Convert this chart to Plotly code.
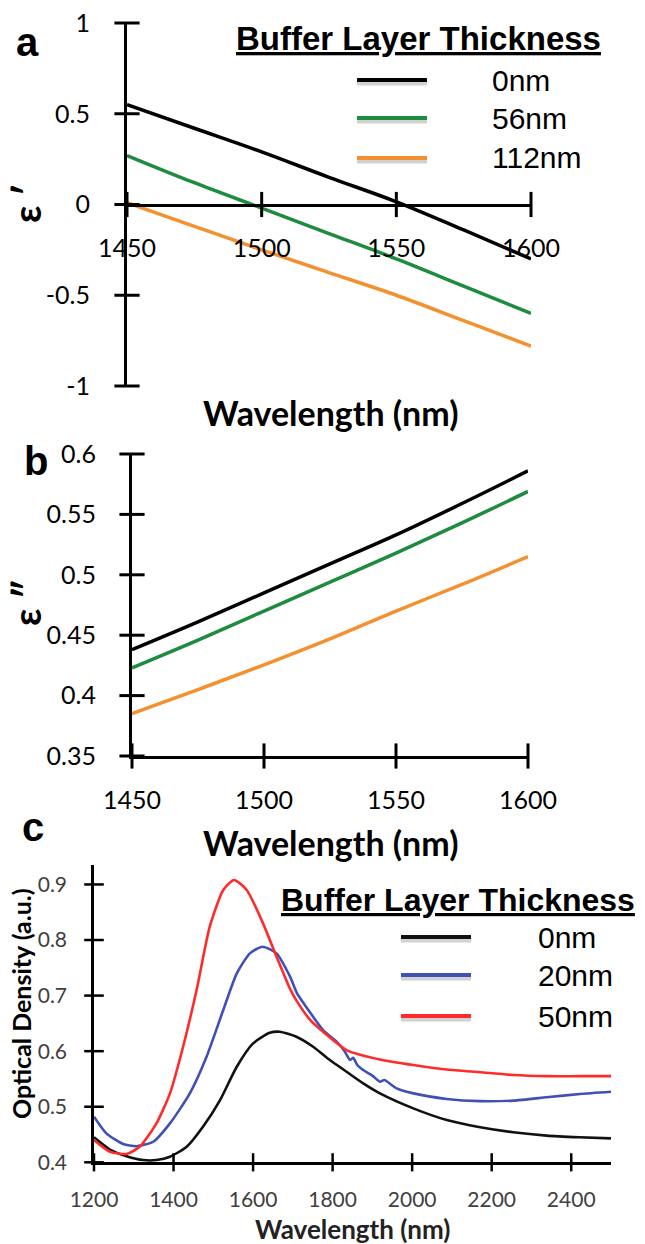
import plotly.graph_objects as go

W, H = 645, 1244

def PX(p):
    return p / W

def PY(p):
    return 1 - p / H

# ---------------- data ----------------
# panel a: real permittivity
lam_ab = [1450, 1475, 1500, 1525, 1550, 1575, 1600]
eps1_0nm = [0.55, 0.42, 0.29, 0.15, 0.015, -0.14, -0.30]
eps1_56nm = [0.27, 0.12, -0.02, -0.16, -0.30, -0.45, -0.60]
eps1_112nm = [0.01, -0.12, -0.25, -0.375, -0.50, -0.64, -0.78]

# panel b: imaginary permittivity
eps2_0nm = [0.438, 0.461, 0.485, 0.509, 0.533, 0.559, 0.586]
eps2_56nm = [0.423, 0.446, 0.470, 0.494, 0.518, 0.543, 0.569]
eps2_112nm = [0.385, 0.405, 0.4255, 0.447, 0.470, 0.492, 0.515]

names_ab = ["0nm", "56nm", "112nm"]
colors_ab = ["#000000", "#1E8B3F", "#F39130"]

xt_ab = [1450, 1500, 1550, 1600]
yt_a = [-1, -0.5, 0, 0.5, 1]
yt_a_text = ["-1", "-0.5", "0", "0.5", "1"]
yt_b = [0.35, 0.4, 0.45, 0.5, 0.55, 0.6]
yt_b_text = ["0.35", "0.4", "0.45", "0.5", "0.55", "0.6"]

# panel c: optical density
lam_c_0 = [1200, 1240, 1282, 1324, 1357, 1391, 1433, 1474, 1517, 1559, 1600, 1642, 1667,
           1709, 1751, 1793, 1835, 1877, 1919, 2003, 2087, 2171, 2254, 2338, 2420, 2500]
od_0nm = [0.445, 0.423, 0.411, 0.404, 0.404, 0.410, 0.428, 0.464, 0.512, 0.572, 0.614, 0.633, 0.635,
          0.626, 0.608, 0.584, 0.563, 0.542, 0.524, 0.497, 0.476, 0.463, 0.454, 0.448, 0.445, 0.443]

lam_c_20 = [1200, 1231, 1273, 1307, 1349, 1391, 1441, 1483, 1525, 1559, 1592, 1624, 1659, 1693,
            1710, 1745, 1776, 1810, 1830, 1844, 1852, 1862, 1877, 1900, 1919, 1930, 1961, 2003,
            2087, 2171, 2254, 2338, 2422, 2500]
od_20nm = [0.482, 0.452, 0.433, 0.429, 0.437, 0.470, 0.524, 0.590, 0.674, 0.740, 0.776, 0.788, 0.776, 0.734,
           0.705, 0.668, 0.638, 0.617, 0.600, 0.584, 0.588, 0.575, 0.566, 0.556, 0.545, 0.548, 0.533, 0.524,
           0.514, 0.510, 0.511, 0.517, 0.523, 0.527]

lam_c_50 = [1200, 1240, 1282, 1315, 1357, 1391, 1424, 1458, 1491, 1525, 1552, 1584, 1625, 1659,
            1693, 1710, 1745, 1776, 1835, 1919, 2003, 2087, 2171, 2254, 2338, 2420, 2500]
od_50nm = [0.440, 0.419, 0.415, 0.428, 0.470, 0.524, 0.608, 0.710, 0.824, 0.890, 0.908, 0.890, 0.830, 0.770,
           0.712, 0.690, 0.655, 0.635, 0.602, 0.585, 0.575, 0.567, 0.562, 0.557, 0.555, 0.555, 0.555]

names_c = ["0nm", "20nm", "50nm"]
colors_c = ["#111111", "#3F51B5", "#FF2B2B"]
xt_c = [1200, 1400, 1600, 1800, 2000, 2200, 2400]
yt_c = [0.4, 0.5, 0.6, 0.7, 0.8, 0.9]
yt_c_text = ["0.4", "0.5", "0.6", "0.7", "0.8", "0.9"]

legend_title = "Buffer Layer Thickness"
xlabel = "Wavelength (nm)"

# ---------------- figure ----------------
fig = go.Figure()

TICKFONT = "Lato, Carlito, Open Sans, sans-serif"
ARIAL = "Liberation Sans, Arial, sans-serif"

for ys, col in zip([eps1_0nm, eps1_56nm, eps1_112nm], colors_ab):
    fig.add_trace(go.Scatter(x=lam_ab, y=ys, mode="lines", line=dict(color=col, width=3.5, shape="spline"),
                             xaxis="x", yaxis="y", showlegend=False, hoverinfo="skip"))
for ys, col in zip([eps2_0nm, eps2_56nm, eps2_112nm], colors_ab):
    fig.add_trace(go.Scatter(x=lam_ab, y=ys, mode="lines", line=dict(color=col, width=3.5, shape="spline"),
                             xaxis="x2", yaxis="y2", showlegend=False, hoverinfo="skip"))
for xs, ys, col in zip([lam_c_0, lam_c_20, lam_c_50], [od_0nm, od_20nm, od_50nm], colors_c):
    fig.add_trace(go.Scatter(x=xs, y=ys, mode="lines", line=dict(color=col, width=2.6, shape="spline", smoothing=0.6),
                             xaxis="x3", yaxis="y3", showlegend=False, hoverinfo="skip"))

# crossing tick marks
def tickmarks(xs, ys, symbol, size, width, xa, ya):
    fig.add_trace(go.Scatter(x=xs, y=ys, mode="markers", cliponaxis=False,
                             marker=dict(symbol=symbol, size=size, line=dict(color="black", width=width)),
                             xaxis=xa, yaxis=ya, showlegend=False, hoverinfo="skip"))

tickmarks(xt_ab, [0] * len(xt_ab), "line-ns", 18, 3, "x", "y")
tickmarks([xt_ab[0]] * len(yt_a), yt_a, "line-ew", 18, 3, "x", "y")
tickmarks(xt_ab, [yt_b[0]] * len(xt_ab), "line-ns", 18, 3, "x2", "y2")
tickmarks([xt_ab[0]] * len(yt_b), yt_b, "line-ew", 18, 3, "x2", "y2")
tickmarks(xt_c, [yt_c[0]] * len(xt_c), "line-ns", 13, 2.5, "x3", "y3")
tickmarks([xt_c[0]] * len(yt_c), yt_c, "line-ew", 14, 2.5, "x3", "y3")

common = dict(showgrid=False, zeroline=False, showline=True, linecolor="black", automargin=False,
              ticks="outside", tickcolor="rgba(0,0,0,0)")

fig.update_layout(
    width=W, height=H, margin=dict(l=0, r=0, t=0, b=0, autoexpand=False),
    paper_bgcolor="white", plot_bgcolor="rgba(0,0,0,0)",
    xaxis=dict(**common, domain=[PX(127), PX(531)], range=[1450, 1600], anchor="free", position=PY(204.5),
               linewidth=3, ticklen=20, tickvals=xt_ab, tickfont=dict(family=TICKFONT, size=25, color="black")),
    yaxis=dict(**common, domain=[PY(386), PY(23)], range=[-1, 1], anchor="x", linewidth=3, ticklen=29,
               tickvals=yt_a, ticktext=yt_a_text, tickfont=dict(family=TICKFONT, size=25, color="black")),
    xaxis2=dict(**common, domain=[PX(132), PX(528)], range=[1450, 1600], anchor="y2",
                linewidth=3, ticklen=20, tickvals=xt_ab, tickfont=dict(family=TICKFONT, size=25, color="black")),
    yaxis2=dict(**common, domain=[PY(756), PY(454)], range=[0.35, 0.6], anchor="x2", linewidth=3, ticklen=28,
                tickvals=yt_b, ticktext=yt_b_text, tickfont=dict(family=TICKFONT, size=25, color="black")),
    xaxis3=dict(**common, domain=[PX(94), PX(611)], range=[1200, 2500], anchor="y3",
                linewidth=2.5, ticklen=17, tickvals=xt_c, tickfont=dict(family=TICKFONT, size=21, color="#404040")),
    yaxis3=dict(**common, domain=[PY(1162.3), PY(865)], range=[0.4, 0.935], anchor="x3", linewidth=2.5, ticklen=20,
                tickvals=yt_c, ticktext=yt_c_text, tickfont=dict(family=TICKFONT, size=21, color="#404040")),
)

ann = []
def text(t, x, y, size, family, color="black", xanchor="center", angle=0):
    ann.append(dict(text=t, x=PX(x), y=PY(y), xref="paper", yref="paper", showarrow=False,
                    xanchor=xanchor, yanchor="middle", textangle=angle,
                    font=dict(size=size, family=family, color=color)))

# panel letters
text("<b>a</b>", 27, 42, 40, ARIAL)
text("<b>b</b>", 36, 461, 40, ARIAL)
text("<b>c</b>", 33, 827, 40, ARIAL)

# axis titles
text("<b>ε ′</b>", 26, 204, 38, "Lato, DejaVu Sans", angle=-90)
text("<b>ε ″</b>", 26, 603, 38, "Lato, DejaVu Sans", angle=-90)
text("<b>Optical Density (a.u.)</b>", 21, 1004, 25, TICKFONT, angle=-90)
text("<b>" + xlabel + "</b>", 330, 413, 34, TICKFONT)
text("<b>" + xlabel + "</b>", 330, 843, 34, TICKFONT)
text("<b>" + xlabel + "</b>", 352, 1229, 26, TICKFONT, color="#222222")

# manual legends
shapes = []
def legend(title_x, title_y, title_size, line_x0, line_x1, ys, text_x, names, colors, size):
    text("<u><b>" + legend_title + "</b></u>", title_x, title_y, title_size, ARIAL, xanchor="left")
    for yy, nm, col in zip(ys, names, colors):
        shapes.append(dict(type="line", xref="paper", yref="paper", x0=PX(line_x0), x1=PX(line_x1),
                           y0=PY(yy + 3), y1=PY(yy + 3), line=dict(color="rgba(0,0,0,0.18)", width=5)))
        shapes.append(dict(type="line", xref="paper", yref="paper", x0=PX(line_x0), x1=PX(line_x1),
                           y0=PY(yy), y1=PY(yy), line=dict(color=col, width=4)))
        text(nm, text_x, yy, size, ARIAL, xanchor="left")

legend(234, 38, 33, 357, 427, [80, 118, 158], 490, names_ab, colors_ab, 30)
legend(279, 900, 32, 401, 471, [937, 975, 1016], 536, names_c, colors_c, 30)

fig.update_layout(annotations=ann, shapes=shapes)

fig.write_html("out.html")
